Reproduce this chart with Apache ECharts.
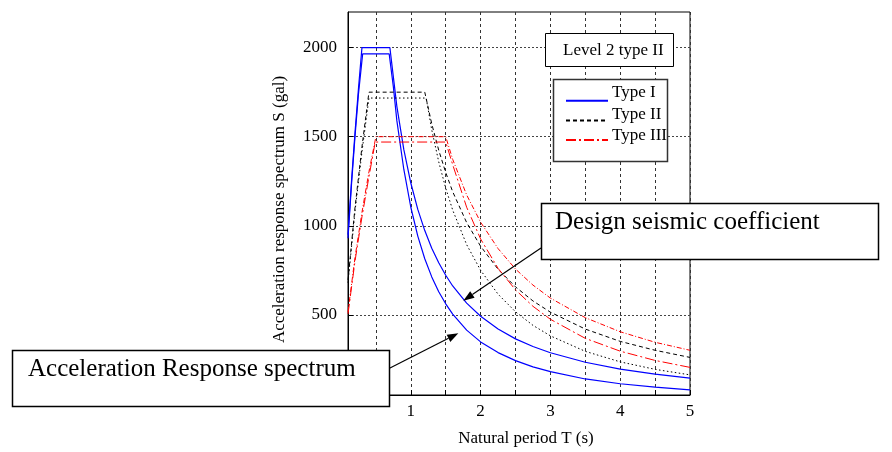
<!DOCTYPE html>
<html>
<head>
<meta charset="utf-8">
<script src="https://cdn.jsdelivr.net/npm/echarts@6/dist/echarts.min.js"></script>
<style>
  html, body { margin: 0; padding: 0; background: #fff; }
  #main { width: 892px; height: 452px; }
</style>
</head>
<body>
<div id="main"></div>
<script>
// tick values
var xTicks = [0.5, 1, 1.5, 2, 2.5, 3, 3.5, 4, 4.5, 5];
var xLabels = [1, 2, 3, 4, 5];
var yTicks = [500, 1000, 1500, 2000];
var legendNames = ['Type I', 'Type II', 'Type III'];

// [period T (s), S (gal)]
var type1Spectrum = [[0.1,930],[0.15,1230],[0.2,1500],[0.25,1740],[0.31,1965],[0.69,1965],[0.75,1780],[0.8,1590],[0.9,1316],[1.0,1104],[1.1,942],[1.2,815],[1.3,713],[1.4,630],[1.5,562],[1.6,504],[1.8,414],[2.0,348],[2.25,288],[2.5,243],[2.75,208],[3.0,181],[3.5,140],[4.0,113],[4.5,94],[5.0,79]];
var type1Design = [[0.1,950],[0.15,1250],[0.2,1520],[0.25,1770],[0.3,2000],[0.7,2000],[0.8,1670],[0.9,1427],[1.0,1240],[1.1,1092],[1.2,973],[1.3,874],[1.4,792],[1.5,722],[1.6,662],[1.8,566],[2.0,492],[2.25,421],[2.5,365],[2.75,322],[3.0,287],[3.5,234],[4.0,195],[4.5,167],[5.0,145]];
var type2Design = [[0.1,694],[0.2,1101],[0.3,1443],[0.4,1750],[1.2,1750],[1.3,1572],[1.4,1424],[1.5,1299],[1.6,1191],[1.8,1018],[2.0,885],[2.25,756],[2.5,657],[2.75,578],[3.0,515],[3.5,420],[4.0,351],[4.5,301],[5.0,261]];
var type2Spectrum = [[0.1,680],[0.2,1080],[0.3,1415],[0.4,1717],[1.22,1717],[1.3,1538],[1.4,1359],[1.5,1211],[1.6,1088],[1.8,894],[2.0,750],[2.25,616],[2.5,517],[2.75,441],[3.0,382],[3.5,295],[4.0,236],[4.5,194],[5.0,163]];
var type3Spectrum = [[0.1,505],[0.2,800],[0.3,1050],[0.4,1275],[0.49,1470],[1.5,1470],[1.6,1343],[1.8,1104],[2.0,926],[2.25,761],[2.5,640],[2.75,548],[3.0,475],[3.5,368],[4.0,296],[4.5,244],[5.0,205]];
var type3Design = [[0.1,517],[0.2,821],[0.3,1075],[0.4,1303],[0.5,1500],[1.5,1500],[1.6,1373],[1.8,1173],[2.0,1020],[2.25,872],[2.5,757],[2.75,667],[3.0,594],[3.5,484],[4.0,405],[4.5,346],[5.0,301]];

var serif = '"Liberation Serif", "Times New Roman", serif';

function curve(name, data, color, dash, width) {
    return {
        name: name,
        type: 'line',
        data: data,
        symbol: 'none',
        z: 2,
        lineStyle: { color: color, width: width, type: dash },
        itemStyle: { color: color }
    };
}

// legend labels sit a bit above their line sample, as in the source
var legendTexts = legendNames.map(function (n, i) {
    return { type: 'text', z: 12, x: 612, y: 92.5 + i * 21.7,
             style: { text: n, font: '17px ' + serif, fill: '#000', textVerticalAlign: 'middle' } };
});

var chart = echarts.init(document.getElementById('main'));
chart.setOption({
    animation: false,
    grid: {
        left: 348, right: 202, top: 12, bottom: 55,
        show: true, borderColor: '#000', borderWidth: 1
    },
    legend: {
        data: legendNames,
        orient: 'vertical',
        left: 565, top: 90.7,
        itemWidth: 42, itemHeight: 20, itemGap: 1.7,
        padding: 0, z: 10,
        selectedMode: false,
        itemStyle: { opacity: 0 },
        formatter: function () { return ''; },
        textStyle: { fontSize: 10 }
    },
    xAxis: {
        type: 'value', min: 0.1, max: 5,
        name: 'Natural period T (s)', nameLocation: 'middle', nameGap: 35,
        nameTextStyle: { fontFamily: serif, fontSize: 17, color: '#000', padding: [0, 0, 0, 14] },
        axisLine: { show: true, lineStyle: { color: '#000', width: 1 } },
        axisTick: { show: true, inside: true, length: 5, customValues: xTicks, lineStyle: { color: '#000' } },
        axisLabel: { customValues: xLabels, fontFamily: serif, fontSize: 17, color: '#000', margin: 8 },
        splitLine: { show: true, lineStyle: { color: '#333', width: 1, type: [3, 3] } }
    },
    yAxis: {
        type: 'value', min: 50, max: 2200,
        name: 'Acceleration response spectrum S (gal)', nameLocation: 'middle', nameGap: 60,
        nameTextStyle: { fontFamily: serif, fontSize: 17, color: '#000', padding: [0, 12, 0, 0] },
        axisLine: { show: true, lineStyle: { color: '#000', width: 1 } },
        axisTick: { show: true, inside: true, length: 5, customValues: yTicks, lineStyle: { color: '#000' } },
        axisLabel: { customValues: yTicks, fontFamily: serif, fontSize: 17, color: '#000', margin: 11,
                     formatter: function (v) { return String(v); } },
        splitLine: { show: true, lineStyle: { color: '#444', width: 1, type: [2, 2] } }
    },
    series: [
        curve('Type I', type1Spectrum, '#0000ff', 'solid', 1.2),
        curve('Type I', type1Design, '#0000ff', 'solid', 1.2),
        curve('Type II', type2Design, '#000', [4, 3], 1),
        curve('Type II', type2Spectrum, '#000', [1.5, 2.5], 1),
        curve('Type III', type3Spectrum, '#ff0000', [10, 3, 2, 3], 1),
        curve('Type III', type3Design, '#ff0000', [5, 2, 1, 2], 1)
    ],
    graphic: [
        // level box
        { type: 'rect', z: 50, shape: { x: 545.5, y: 33.5, width: 128, height: 33 },
          style: { fill: '#fff', stroke: '#000', lineWidth: 1 } },
        { type: 'text', z: 51, x: 563, y: 51,
          style: { text: 'Level 2 type II', font: '17px ' + serif, fill: '#000', textVerticalAlign: 'middle' } },
        // legend box
        { type: 'rect', z: 5, shape: { x: 553.5, y: 79.5, width: 114, height: 82 },
          style: { fill: '#fff', stroke: '#333', lineWidth: 1.5 } },
        // design seismic coefficient callout
        { type: 'rect', z: 50, shape: { x: 541.5, y: 203.5, width: 337, height: 56 },
          style: { fill: '#fff', stroke: '#000', lineWidth: 1.5 } },
        { type: 'text', z: 51, x: 555, y: 222,
          style: { text: 'Design seismic coefficient', font: '25px ' + serif, fill: '#000', textVerticalAlign: 'middle' } },
        { type: 'line', z: 50, shape: { x1: 541, y1: 248, x2: 472.4, y2: 294.5 },
          style: { stroke: '#000', lineWidth: 1.2 } },
        { type: 'polygon', z: 50, shape: { points: [[463.3, 300.7], [474.6, 297.8], [470.2, 291.2]] },
          style: { fill: '#000' } },
        // acceleration response spectrum callout
        { type: 'rect', z: 50, shape: { x: 12.5, y: 350.5, width: 377, height: 56 },
          style: { fill: '#fff', stroke: '#000', lineWidth: 1.5 } },
        { type: 'text', z: 51, x: 28, y: 369,
          style: { text: 'Acceleration Response spectrum', font: '25px ' + serif, fill: '#000', textVerticalAlign: 'middle' } },
        { type: 'line', z: 50, shape: { x1: 389.5, y1: 368.3, x2: 448.5, y2: 338.3 },
          style: { stroke: '#000', lineWidth: 1.2 } },
        { type: 'polygon', z: 50, shape: { points: [[458.3, 333.3], [450.3, 341.9], [446.7, 334.7]] },
          style: { fill: '#000' } }
    ].concat(legendTexts)
});
</script>
</body>
</html>
